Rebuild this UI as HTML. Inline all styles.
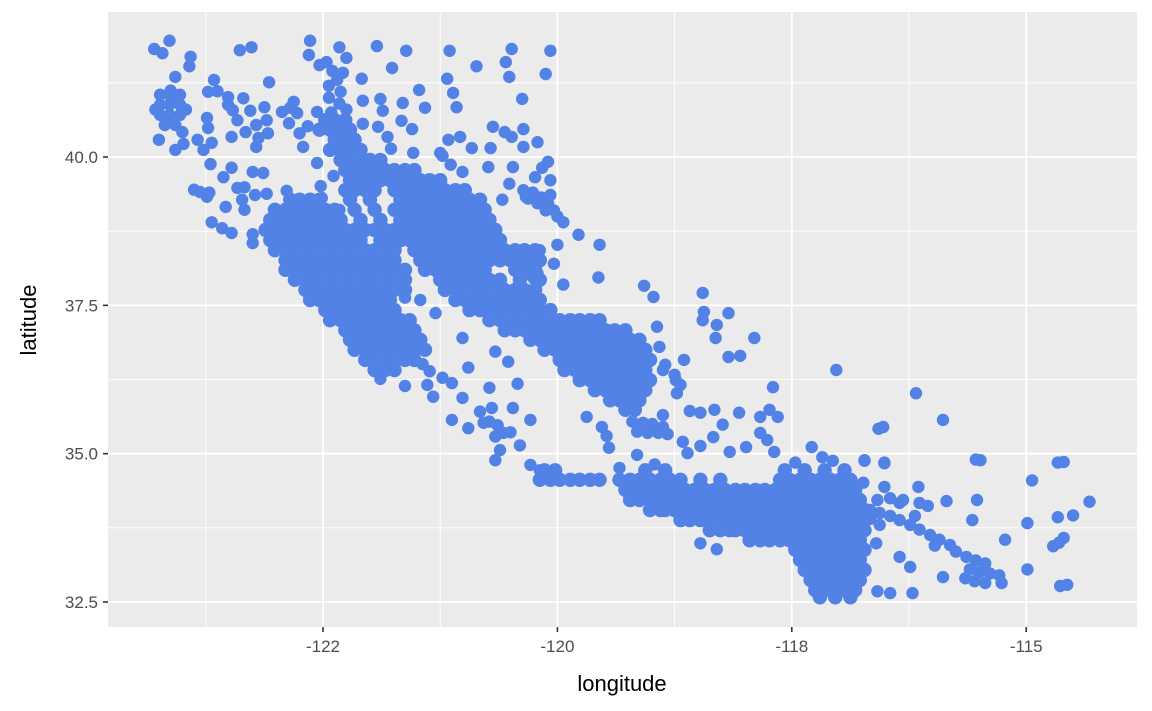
<!DOCTYPE html>
<html><head><meta charset="utf-8">
<style>
html,body{margin:0;padding:0;background:#fff;}
svg{display:block;font-family:"Liberation Sans",Arial,sans-serif;}
</style></head>
<body>
<svg id="chart" width="1152" height="711" viewBox="0 0 1152 711" xmlns="http://www.w3.org/2000/svg">
<rect x="0" y="0" width="1152" height="711" fill="#ffffff"/>
<rect x="108" y="12" width="1029" height="615" fill="#EBEBEB"/>
<g id="grid"></g>
<g id="pts"></g>
<g id="axes"></g>
<text x="622" y="691" text-anchor="middle" font-size="22" fill="#000">longitude</text>
<text transform="translate(36,320) rotate(-90)" text-anchor="middle" font-size="22" fill="#000">latitude</text>
</svg>
<script>
const xTicks=[-122,-120,-118,-116];
const xTickLabels=["-122","-120","-118","-115"];
const xMinor=[-123,-121,-119,-117];
const yTicks=[32.5,35,37.5,40];
const yTickLabels=["32.5","35.0","37.5","40.0"];
const yMinor=[33.75,36.25,38.75,41.25];

const northwest=[[-123.44,41.82],[-123.31,41.96],[-123.37,41.75],[-123.13,41.69],[-123.14,41.53],[-123.26,41.35],[-122.71,41.80],[-122.61,41.85],[-122.93,41.30],[-122.46,41.26],[-122.11,41.96],[-122.12,41.72],
[-123.39,41.05],[-123.31,41.05],[-123.22,41.05],[-123.39,40.88],[-123.31,40.88],[-123.22,40.88],[-123.39,40.71],[-123.31,40.71],[-123.22,40.71],[-123.35,40.54],[-123.26,40.54],[-123.43,40.80],[-123.17,40.80],[-123.40,40.29],[-123.26,40.12],[-123.20,40.42],[-123.19,40.22],[-123.26,40.96],[-123.30,41.12],
[-122.98,41.10],[-122.90,41.11],[-122.81,41.01],[-122.68,40.99],[-122.81,40.88],[-122.77,40.79],[-122.62,40.78],[-122.50,40.84],[-122.73,40.62],[-122.57,40.54],[-122.48,40.62],[-122.66,40.42],[-122.47,40.40],[-122.55,40.32],[-122.57,40.17],[-122.78,40.34],[-122.99,40.66],[-122.98,40.49],[-123.07,40.29],[-122.95,40.24],[-123.02,40.12],
[-122.96,39.88],[-122.78,39.82],[-122.85,39.66],[-122.60,39.75],[-122.51,39.73],[-123.05,39.41],[-123.10,39.45],[-122.99,39.33],[-122.97,39.40],[-122.83,39.16],[-122.73,39.48],[-122.67,39.49],[-122.69,39.28],[-122.67,39.11],[-122.58,39.36],[-122.48,39.38],[-122.31,39.43],[-122.95,38.90],[-122.86,38.80],[-122.78,38.72],[-122.60,38.70],[-122.60,38.55],
[-122.35,40.76],[-122.28,40.83],[-122.25,40.93],[-122.22,40.74],[-122.29,40.57],[-122.20,40.40],[-122.17,40.17],[-122.13,40.52],[-122.05,40.76],[-122.05,39.90],[-122.02,39.51],[-122.01,39.31],[-121.91,39.68],[-121.86,39.11]];

const northSparse=[[-121.86,41.85],[-121.54,41.87],[-121.29,41.79],[-120.92,41.79],[-120.69,41.53],[-120.39,41.82],[-120.44,41.60],[-120.41,41.35],[-120.06,41.79],[-120.10,41.40],[-121.41,41.50],[-121.67,41.32],[-121.80,41.67],[-120.94,41.32],[-120.89,41.08],[-120.86,40.84],[-120.30,40.98],[-121.18,41.13],[-121.13,40.83],[-121.66,40.95],[-121.51,40.98],[-121.49,40.78],[-121.32,40.91],[-121.33,40.61],[-121.24,40.47],[-121.66,40.56],[-121.53,40.51],[-121.45,40.34],[-121.42,40.14],[-121.23,40.07],
[-121.00,40.07],[-120.98,40.02],[-120.91,39.87],[-120.81,39.75],[-120.73,40.15],[-120.83,40.34],[-120.93,40.29],[-120.55,40.51],[-120.45,40.42],[-120.39,40.34],[-120.57,40.15],[-120.29,40.47],[-120.29,40.17],[-120.17,40.25],[-120.08,39.92],[-120.13,39.82],[-120.06,39.61],[-120.19,39.66],[-120.38,39.83],[-120.59,39.83],[-120.41,39.55],[-120.47,39.28],[-120.27,39.33],[-120.06,39.36],
[-121.97,41.60],[-121.92,41.45],[-121.88,41.30],[-121.95,41.20],[-121.85,41.10],[-121.95,41.00],[-121.86,40.90],[-121.80,40.80],[-121.93,40.75],[-122.03,41.55],[-121.83,41.42],
[-120.29,39.44],[-120.21,39.40],[-120.14,39.32],[-120.08,39.22],[-120.03,39.10],[-120.25,39.30],[-120.17,39.22],[-120.10,39.10],[-120.00,39.00],[-119.95,38.90],[-119.82,38.69],[-119.64,38.52],[-120.00,38.52],[-120.03,38.20],[-119.95,37.85],[-120.15,38.43],[-120.25,38.05],[-120.17,38.04],[-120.30,37.98],[-120.20,37.95],[-120.38,37.64],[-120.25,37.64],[-120.16,37.54],[-119.65,37.97],[-119.26,37.83],[-119.18,37.64]];

const coreRows=[
[40.62,[-121.98,-121.90,-121.81]],
[40.46,[-122.03,-121.94,-121.85,-121.77]],
[40.29,[-121.90,-121.81,-121.73]],
[40.12,[-121.94,-121.85,-121.77,-121.68]],
[39.95,[-121.85,-121.77,-121.68,-121.60,-121.51]],
[39.78,[-121.81,-121.73,-121.64,-121.56,-121.47,-121.39,-121.30,-121.22]],
[39.61,[-121.77,-121.68,-121.60,-121.51,-121.43,-121.34,-121.26,-121.17,-121.09,-121.00]],
[39.44,[-121.81,-121.73,-121.64,-121.56,-121.39,-121.30,-121.22,-121.13,-121.04,-120.96,-120.87,-120.79]],
[39.28,[-122.28,-122.20,-122.11,-122.03,-121.77,-121.60,-121.34,-121.26,-121.17,-121.09,-121.00,-120.92,-120.83,-120.75,-120.66]],
[39.11,[-122.41,-122.32,-122.24,-122.15,-122.07,-121.98,-121.90,-121.73,-121.56,-121.39,-121.30,-121.22,-121.13,-121.04,-120.96,-120.87,-120.79,-120.70,-120.62]],
[38.94,[-122.45,-122.37,-122.28,-122.20,-122.11,-122.03,-121.94,-121.85,-121.68,-121.51,-121.34,-121.26,-121.17,-121.09,-121.00,-120.92,-120.83,-120.75,-120.66,-120.58]],
[38.77,[-122.49,-122.41,-122.32,-122.24,-122.15,-122.07,-121.98,-121.90,-121.81,-121.73,-121.64,-121.56,-121.47,-121.39,-121.30,-121.22,-121.13,-121.04,-120.96,-120.87,-120.79,-120.70,-120.62,-120.53]],
[38.60,[-122.45,-122.37,-122.28,-122.20,-122.11,-122.03,-121.94,-121.85,-121.77,-121.68,-121.51,-121.43,-121.34,-121.26,-121.17,-121.09,-121.00,-120.92,-120.83,-120.75,-120.66,-120.58,-120.49]],
[38.43,[-122.41,-122.32,-122.24,-122.15,-122.07,-121.98,-121.90,-121.81,-121.73,-121.64,-121.56,-121.47,-121.39,-121.22,-121.13,-121.04,-120.96,-120.87,-120.79,-120.70,-120.62,-120.53,-120.45,-120.36,-120.28,-120.19]],
[38.26,[-122.32,-122.24,-122.15,-122.07,-121.98,-121.90,-121.81,-121.73,-121.64,-121.56,-121.47,-121.39,-121.17,-121.09,-121.00,-120.92,-120.83,-120.75,-120.66,-120.58,-120.49,-120.40,-120.32,-120.23,-120.15]],
[38.10,[-122.32,-122.24,-122.15,-122.07,-121.98,-121.90,-121.81,-121.73,-121.64,-121.56,-121.47,-121.39,-121.30,-121.13,-121.04,-120.96,-120.87,-120.79,-120.70,-120.62,-120.36,-120.28,-120.19]],
[37.93,[-122.24,-122.15,-122.07,-121.98,-121.90,-121.81,-121.73,-121.64,-121.56,-121.47,-121.39,-121.30,-121.00,-120.92,-120.83,-120.75,-120.66,-120.58,-120.49,-120.32,-120.15]],
[37.76,[-122.15,-122.07,-121.98,-121.90,-121.81,-121.73,-121.64,-121.56,-121.47,-121.39,-121.30,-120.96,-120.87,-120.79,-120.70,-120.62,-120.53,-120.45,-120.36,-120.28,-120.19]],
[37.59,[-122.11,-122.03,-121.94,-121.85,-121.77,-121.68,-121.60,-121.51,-121.43,-120.87,-120.79,-120.70,-120.62,-120.53,-120.45,-120.36,-120.28,-120.19,-120.15]],
[37.42,[-121.98,-121.90,-121.81,-121.73,-121.64,-121.56,-121.47,-121.39,-120.75,-120.66,-120.58,-120.49,-120.40,-120.32,-120.23,-120.15,-120.06]],
[37.25,[-121.94,-121.85,-121.77,-121.68,-121.60,-121.51,-121.43,-121.34,-121.26,-120.58,-120.49,-120.40,-120.32,-120.23,-120.15,-120.06,-119.98,-119.89,-119.81,-119.72,-119.64]],
[37.08,[-121.81,-121.73,-121.64,-121.56,-121.47,-121.39,-121.30,-121.22,-120.45,-120.36,-120.28,-120.19,-120.11,-120.02,-119.94,-119.85,-119.76,-119.68,-119.59,-119.51,-119.42]],
[36.92,[-121.77,-121.68,-121.60,-121.51,-121.43,-121.34,-121.26,-121.17,-120.23,-120.15,-120.06,-119.98,-119.89,-119.81,-119.72,-119.64,-119.55,-119.47,-119.38,-119.30]],
[36.75,[-121.73,-121.64,-121.56,-121.47,-121.39,-121.30,-121.22,-121.13,-120.11,-120.02,-119.94,-119.85,-119.76,-119.68,-119.59,-119.51,-119.42,-119.34,-119.25]],
[36.58,[-121.64,-121.56,-121.47,-121.39,-121.30,-121.22,-119.98,-119.89,-119.81,-119.72,-119.64,-119.55,-119.47,-119.38,-119.30,-119.21]],
[36.41,[-121.56,-121.47,-121.39,-119.94,-119.85,-119.76,-119.68,-119.59,-119.51,-119.42,-119.34,-119.25]],
[36.24,[-119.81,-119.72,-119.64,-119.55,-119.47,-119.38,-119.30,-119.21]],
[36.07,[-119.68,-119.59,-119.51,-119.42,-119.34,-119.25]],
[35.90,[-119.55,-119.47,-119.38,-119.30]],
[35.74,[-119.42,-119.34]]];

const centralCoast=[[-121.51,36.26],[-121.30,36.14],[-121.11,36.16],[-121.06,35.96],[-121.15,36.51],[-121.09,36.39],[-120.98,36.28],[-120.90,36.19],[-120.76,36.45],[-120.81,36.95],[-120.53,36.72],[-120.42,36.55],[-120.34,36.18],[-120.58,36.11],[-120.81,35.94],[-120.90,35.57],[-120.76,35.43],[-120.56,35.77],[-120.63,35.52],[-120.51,35.48],[-120.38,35.77],[-120.23,35.57],[-120.46,35.35],[-120.66,35.71],[-120.58,35.54],[-120.53,35.29],[-120.49,35.06],[-120.32,35.14],[-120.40,35.36],[-120.53,34.89],[-120.23,34.81],[-120.15,34.72],[-120.02,34.64],[-121.30,37.63],[-121.17,37.59],[-121.04,37.37],[-119.75,35.62]];

const valleySparse=[[-118.76,37.71],[-118.75,37.39],[-118.76,37.25],[-118.54,37.37],[-118.64,37.17],[-118.65,36.95],[-118.32,36.95],[-118.54,36.63],[-118.44,36.65],[-118.92,36.58],[-117.62,36.41],[-118.16,36.12],[-119.15,37.14],[-119.13,36.80],[-119.10,36.41],[-118.99,36.24],[-118.98,36.02],[-119.10,35.65],[-118.87,35.72],[-118.78,35.69],[-118.66,35.74],[-118.45,35.69],[-118.59,35.49],[-118.67,35.28],[-118.78,35.13],[-118.93,35.20],[-118.89,35.01],[-118.27,35.62],[-118.19,35.74],[-118.12,35.62],[-118.27,35.35],[-118.21,35.23],[-118.15,35.03],[-118.39,35.11],[-118.53,35.03],[-117.26,35.42],[-117.83,35.11],[-117.74,34.94],[-117.65,34.88],[-117.38,34.88],[-117.21,34.85],[-117.97,34.85],
[-119.36,35.54],[-119.27,35.52],[-119.19,35.50],[-119.10,35.45],[-119.32,35.37],[-119.23,35.35],[-119.14,35.35],[-119.06,35.33],[-119.62,35.45],[-119.58,35.30],[-119.56,35.10],[-119.47,34.76],[-119.32,34.98],[-119.17,34.82],[-119.08,36.50],[-119.00,36.33],[-118.95,36.16]];

const southRows=[
[34.72,[-120.11,-120.02,-119.25,-119.08,-118.06,-117.89,-117.72,-117.55]],
[34.56,[-120.15,-120.06,-119.98,-119.89,-119.81,-119.72,-119.64,-119.47,-119.38,-119.30,-119.21,-119.12,-119.04,-118.95,-118.78,-118.61,-118.10,-118.02,-117.93,-117.84,-117.76,-117.67,-117.59,-117.50]],
[34.39,[-119.42,-119.34,-119.25,-119.17,-119.08,-119.00,-118.91,-118.83,-118.74,-118.66,-118.57,-118.48,-118.40,-118.31,-118.23,-118.14,-118.06,-117.97,-117.89,-117.80,-117.72,-117.63,-117.55,-117.46]],
[34.22,[-119.38,-119.30,-119.21,-119.12,-119.04,-118.95,-118.87,-118.78,-118.70,-118.61,-118.53,-118.44,-118.36,-118.27,-118.19,-118.10,-118.02,-117.93,-117.84,-117.76,-117.67,-117.59,-117.50,-117.42]],
[34.05,[-119.21,-119.12,-119.08,-119.00,-118.91,-118.83,-118.74,-118.66,-118.57,-118.48,-118.40,-118.31,-118.23,-118.14,-118.06,-117.97,-117.89,-117.80,-117.72,-117.63,-117.55,-117.46,-117.38]],
[33.88,[-118.95,-118.87,-118.78,-118.70,-118.61,-118.53,-118.44,-118.36,-118.27,-118.19,-118.10,-118.02,-117.93,-117.84,-117.76,-117.67,-117.59,-117.50,-117.42]],
[33.71,[-118.70,-118.61,-118.53,-118.48,-118.40,-118.31,-118.23,-118.14,-118.06,-117.97,-117.89,-117.80,-117.72,-117.63,-117.55,-117.46,-117.38]],
[33.54,[-118.36,-118.27,-118.19,-118.10,-118.02,-117.93,-117.84,-117.76,-117.67,-117.59,-117.50,-117.42]],
[33.38,[-117.97,-117.89,-117.80,-117.72,-117.63,-117.55,-117.46,-117.38]],
[33.21,[-117.93,-117.84,-117.76,-117.67,-117.59,-117.50,-117.42]],
[33.04,[-117.89,-117.80,-117.72,-117.63,-117.55,-117.46,-117.38]],
[32.87,[-117.84,-117.76,-117.67,-117.59,-117.50,-117.42]],
[32.70,[-117.80,-117.72,-117.63,-117.55,-117.46]],
[32.58,[-117.76,-117.63,-117.50]]];

const inlandEast=[[-118.78,33.49],[-118.64,33.39],
[-117.42,34.10],[-117.33,34.05],[-117.25,34.00],[-117.16,33.95],[-117.08,33.88],[-116.99,33.80],[-116.91,33.72],[-116.82,33.63],[-116.74,33.55],[-116.65,33.46],[-117.33,33.90],[-117.25,33.80],[-116.95,33.95],[-116.78,33.45],[-116.60,33.35],[-117.42,33.95],[-117.27,34.22],[-117.16,34.25],[-117.05,34.22],[-117.08,34.17],[-116.91,34.17],[-116.84,34.12],
[-116.51,33.26],[-116.43,33.20],[-116.35,33.15],[-116.48,33.05],[-116.40,33.00],[-116.31,32.98],[-116.23,32.95],[-116.44,32.85],[-116.35,32.82],[-116.52,32.90],[-116.21,32.82],
[-116.43,34.90],[-115.73,34.85],[-115.68,34.86],[-115.95,34.55],[-115.46,34.19],[-116.42,34.22],[-116.68,34.20],[-116.46,33.88],[-115.99,33.83],[-115.73,33.93],[-115.60,33.96],[-116.18,33.55],[-115.68,33.58],[-115.77,33.44],[-115.72,33.50],[-115.99,33.05],[-115.71,32.77],[-115.65,32.79],[-116.92,34.44],[-117.38,34.89],[-117.21,34.84],[-117.39,34.51],[-117.21,34.44],
[-116.71,32.92],[-116.97,32.65],[-117.16,32.65],[-117.27,32.68],[-116.99,33.09],[-117.08,33.26],[-117.28,33.49],[-117.40,33.42],[-117.39,33.76],[-116.94,36.02],[-116.71,35.57],[-117.22,35.45],[-116.39,34.89]];

const SX0=323, SXK=117.2, SY0=602, SYK=59.33;
function xScale(lon){return SX0+(lon+122)*SXK;}
function yScale(lat){return SY0-(lat-32.5)*SYK;}
const NS="http://www.w3.org/2000/svg";
const L=108,R=1137,T=12,B=627;
const grid=document.getElementById('grid');
function line(parent,x1,y1,x2,y2,stroke,w,name){
  const el=document.createElementNS(NS,'line');
  el.setAttribute('x1',x1);el.setAttribute('y1',y1);el.setAttribute('x2',x2);el.setAttribute('y2',y2);
  el.setAttribute('stroke',stroke);el.setAttribute('stroke-width',w);
  
  
  parent.appendChild(el);return el;
}
xMinor.forEach(v=>{line(grid,xScale(v),T,xScale(v),B,'#fff',0.9,'x-minor-gridline');});
yMinor.forEach(v=>{line(grid,L,yScale(v),R,yScale(v),'#fff',0.9,'y-minor-gridline');});
xTicks.forEach(v=>{line(grid,xScale(v),T,xScale(v),B,'#fff',1.8,'x-major-gridline');});
yTicks.forEach(v=>{line(grid,L,yScale(v),R,yScale(v),'#fff',1.8,'y-major-gridline');});

const pts=document.getElementById('pts');
function dot(lon,lat,r){
  const c=document.createElementNS(NS,'circle');
  c.setAttribute('cx',xScale(lon).toFixed(1));c.setAttribute('cy',yScale(lat).toFixed(1));
  c.setAttribute('r',r);c.setAttribute('fill','#5282E6');
  
  
  pts.appendChild(c);
}
coreRows.forEach(r=>r[1].forEach(lon=>dot(lon,r[0],7.2)));
southRows.forEach(r=>r[1].forEach(lon=>dot(lon,r[0],7.2)));
[northwest,northSparse,centralCoast,valleySparse,inlandEast].forEach(arr=>arr.forEach(p=>dot(p[0],p[1],6.2)));

const axes=document.getElementById('axes');
function txt(x,y,s,anchor,name){
  const t=document.createElementNS(NS,'text');
  t.setAttribute('x',x);t.setAttribute('y',y);t.setAttribute('text-anchor',anchor);
  t.setAttribute('font-size','17');t.setAttribute('fill','#4D4D4D');
  t.textContent=s;
  
  
  axes.appendChild(t);
}
xTicks.forEach((v,i)=>{
  line(axes,xScale(v),B,xScale(v),B+5,'#333',1.6,'x-tick-mark');
  txt(xScale(v),B+25,xTickLabels[i],'middle','x-tick-label');
});
yTicks.forEach((v,i)=>{
  line(axes,L-5,yScale(v),L,yScale(v),'#333',1.6,'y-tick-mark');
  txt(L-10,yScale(v)+6,yTickLabels[i],'end','y-tick-label');
});
</script>
</body></html>
